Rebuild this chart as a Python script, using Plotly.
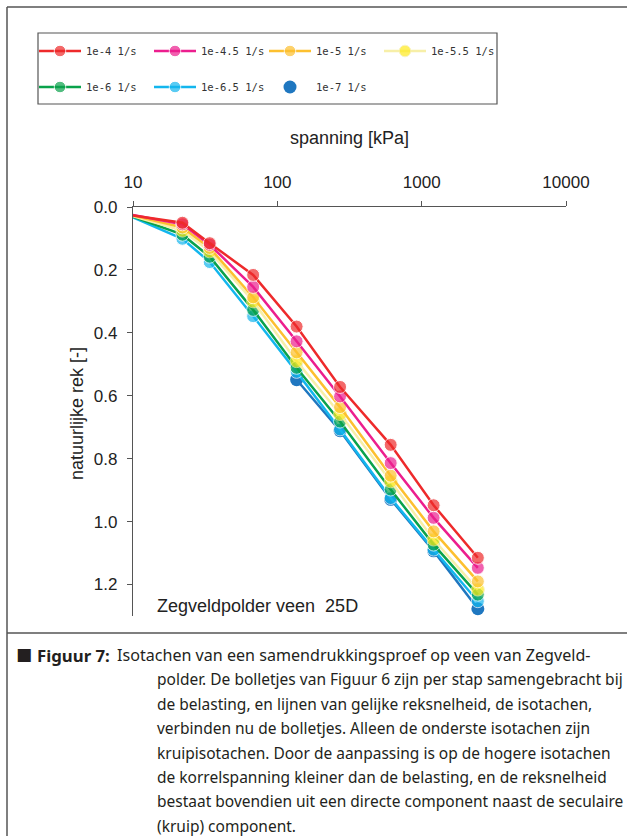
import plotly.graph_objects as go

# ---------------- data ----------------
spanning = [10, 22, 34, 68, 136, 272, 610, 1210, 2450]  # kPa

rek_1e4 = [0.027, 0.050, 0.115, 0.216, 0.380, 0.572, 0.756, 0.948, 1.115]
rek_1e45 = [0.025, 0.055, 0.120, 0.254, 0.427, 0.602, 0.814, 0.988, 1.147]
rek_1e5 = [0.027, 0.065, 0.130, 0.287, 0.462, 0.636, 0.854, 1.031, 1.190]
rek_1e55 = [0.029, 0.075, 0.141, 0.300, 0.490, 0.658, 0.872, 1.057, 1.216]
rek_1e6 = [0.031, 0.088, 0.158, 0.327, 0.511, 0.682, 0.898, 1.073, 1.232]
rek_1e65 = [0.033, 0.101, 0.175, 0.347, 0.524, 0.707, 0.925, 1.089, 1.253]
spanning_1e7 = [136, 272, 610, 1210, 2450]
rek_1e7 = [0.549, 0.711, 0.929, 1.093, 1.277]

series_names = ["1e-4 1/s", "1e-4.5 1/s", "1e-5 1/s", "1e-5.5 1/s",
                "1e-6 1/s", "1e-6.5 1/s", "1e-7 1/s"]

x_ticks = [10, 100, 1000, 10000]
y_ticks = [0.0, 0.2, 0.4, 0.6, 0.8, 1.0, 1.2]

caption_lines = [
    "polder. De bolletjes van Figuur 6 zijn per stap samengebracht bij",
    "de belasting, en lijnen van gelijke reksnelheid, de isotachen,",
    "verbinden nu de bolletjes. Alleen de onderste isotachen zijn",
    "kruipisotachen. Door de aanpassing is op de hogere isotachen",
    "de korrelspanning kleiner dan de belasting, en de reksnelheid",
    "bestaat bovendien uit een directe component naast de seculaire",
    "(kruip) component.",
]
caption_first = "Isotachen van een samendrukkingsproef op veen van Zegveld-"

# ---------------- layout geometry ----------------
W, H = 627, 836
ML, MR, MT, MB = 133, 61, 207, 220
PW, PH = W - ML - MR, H - MT - MB


def px(x):
    return (x - ML) / PW


def py(y):
    return (H - MB - y) / PH


fig = go.Figure()

# 1e-7 series drawn first (beneath), marker only in legend
fig.add_trace(go.Scatter(
    x=spanning_1e7, y=rek_1e7, name=series_names[6], mode="lines+markers",
    line=dict(color="#1F77C0", width=2.5), marker=dict(color="#1F77C0", size=13),
    showlegend=False,
))

line_specs = [
    (rek_1e65, "#13B6EE", "#13B6EE", 5, "legend2"),
    (rek_1e6, "#0AA24B", "#0AA24B", 4, "legend2"),
    (rek_1e55, "#F7EFA8", "#FFEB1E", 3, "legend"),
    (rek_1e5, "#FDC02F", "#FDC02F", 2, "legend"),
    (rek_1e45, "#EC1E8E", "#EC1E8E", 1, "legend"),
    (rek_1e4, "#EE2A2B", "#EE2A2B", 0, "legend"),
]

for vals, lc, mc, idx, lg in line_specs:
    fig.add_trace(go.Scatter(
        x=spanning, y=vals, name=series_names[idx],
        mode="lines+markers", line=dict(color=lc, width=2.5),
        marker=dict(color=mc, size=[0] + [13] * (len(spanning) - 1), symbol="circle"),
        legend=lg, legendrank=idx + 1,
    ))

fig.add_trace(go.Scatter(
    x=[None], y=[None], name=series_names[6], mode="markers",
    marker=dict(color="#1F77C0", size=13), legend="legend2", legendrank=7,
))

legend_font = dict(family="DejaVu Sans Mono", size=10.5, color="#333333")
leg_common = dict(orientation="h", xanchor="left", yanchor="middle",
                  bgcolor="rgba(0,0,0,0)", borderwidth=0, font=legend_font,
                  itemwidth=42, entrywidth=58, entrywidthmode="pixels", itemclick=False)

axis_font = dict(family="Liberation Sans", size=17, color="#222222")

fig.update_layout(
    width=W, height=H,
    margin=dict(l=ML, r=MR, t=MT, b=MB, autoexpand=False),
    paper_bgcolor="white", plot_bgcolor="white",
    showlegend=True,
    legend=dict(x=px(34), y=py(51), **leg_common),
    legend2=dict(x=px(34), y=py(87), **leg_common),
    xaxis=dict(
        type="log", range=[1, 4], side="top",
        tickvals=x_ticks, ticktext=[str(v) for v in x_ticks],
        showgrid=False, zeroline=False, showline=True, linecolor="#555555", linewidth=1.2,
        ticks="outside", ticklen=5, tickcolor="#555555", tickfont=axis_font,
        ticklabelstandoff=6,
    ),
    yaxis=dict(
        range=[1.3, 0], tickvals=y_ticks, tickformat=".1f",
        showgrid=False, zeroline=False, showline=True, linecolor="#555555", linewidth=1.2,
        ticks="outside", ticklen=5, tickcolor="#555555", tickfont=axis_font,
        ticklabelstandoff=6,
    ),
    font=dict(family="Liberation Sans"),
)

shapes = [
    # outer frame
    dict(type="line", xref="paper", yref="paper", x0=px(7), x1=px(640), y0=py(7), y1=py(7),
         line=dict(color="#555555", width=1.5)),
    dict(type="line", xref="paper", yref="paper", x0=px(7), x1=px(7), y0=py(7), y1=py(850),
         line=dict(color="#555555", width=1.5)),
    dict(type="line", xref="paper", yref="paper", x0=px(7), x1=px(640), y0=py(633), y1=py(633),
         line=dict(color="#555555", width=1.5)),
    # legend box
    dict(type="rect", xref="paper", yref="paper", x0=px(38), x1=px(497), y0=py(33), y1=py(104),
         line=dict(color="#555555", width=1.2), fillcolor="rgba(0,0,0,0)"),
]
fig.update_layout(shapes=shapes)

ann = []
ann.append(dict(text="spanning [kPa]", xref="paper", yref="paper", x=px(349), y=py(138),
                showarrow=False, font=dict(family="Liberation Sans", size=18, color="#222222"),
                xanchor="center", yanchor="middle"))
ann.append(dict(text="natuurlijke rek [-]", xref="paper", yref="paper", x=px(77), y=py(414),
                showarrow=False, textangle=-90,
                font=dict(family="Liberation Sans", size=18, color="#222222"),
                xanchor="center", yanchor="middle"))
ann.append(dict(text="Zegveldpolder veen\u00a0 25D", xref="paper", yref="paper", x=px(155), y=py(606),
                showarrow=False, font=dict(family="Liberation Sans", size=18, color="#222222"),
                xanchor="left", yanchor="middle"))

cap_font = dict(family="Noto Sans", size=15.5, color="#231F20")
y0 = 655
dy = 24.4
ann.append(dict(text="\u25A0", xref="paper", yref="paper", x=px(14), y=py(y0 - 1),
                showarrow=False, font=dict(family="DejaVu Sans", size=17, color="#231F20"),
                xanchor="left", yanchor="middle"))
ann.append(dict(text="<b>Figuur 7:</b>", xref="paper", yref="paper", x=px(35), y=py(y0),
                showarrow=False, font=dict(family="Noto Sans", size=16.8, color="#231F20"),
                xanchor="left", yanchor="middle"))
ann.append(dict(text=caption_first, xref="paper", yref="paper", x=px(115), y=py(y0),
                showarrow=False, font=dict(family="Noto Sans", size=16.1, color="#231F20"),
                xanchor="left", yanchor="middle"))
for i, line in enumerate(caption_lines):
    ann.append(dict(text=line, xref="paper", yref="paper", x=px(155), y=py(y0 + (i + 1) * dy),
                    showarrow=False, font=cap_font, xanchor="left", yanchor="middle"))
fig.update_layout(annotations=ann)

fig.write_html("out.html")
